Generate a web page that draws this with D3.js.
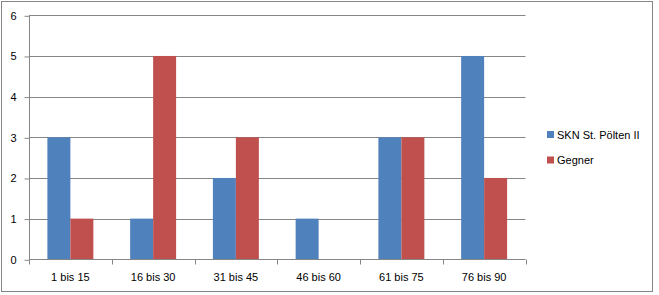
<!DOCTYPE html>
<html>
<head>
<meta charset="utf-8">
<script src="https://cdn.jsdelivr.net/npm/d3@7"></script>
<style>
  body { margin: 0; background: #fff; }
  text { font-family: "Liberation Sans", Arial, sans-serif; font-size: 11px; fill: #000; }
</style>
</head>
<body>
<div id="chart"></div>
<script>
var categories = ['1 bis 15', '16 bis 30', '31 bis 45', '46 bis 60', '61 bis 75', '76 bis 90'];
var seriesNames = ['SKN St. Pölten II', 'Gegner'];
var sknValues = [3, 1, 2, 1, 3, 5];
var gegnerValues = [1, 5, 3, 0, 3, 2];
var yTicks = [0, 1, 2, 3, 4, 5, 6];
var colors = ['#4F81BD', '#C0504D'];

var width = 659, height = 295;
var plotLeft = 29, plotRight = 525.5, plotTop = 15.3, plotBottom = 259.3;

var svg = d3.select('#chart').append('svg')
  .attr('width', width)
  .attr('height', height);

// outer frame
svg.append('rect')
  .attr('x', 1.5).attr('y', 1.5)
  .attr('width', 651).attr('height', 290)
  .attr('fill', 'none')
  .attr('stroke', '#868686');

var x = d3.scaleBand().domain(categories).range([plotLeft, plotRight]);
var x1 = d3.scaleBand().domain(seriesNames)
  .range([0, x.bandwidth()]).paddingOuter(0.8).paddingInner(0);
var y = d3.scaleLinear().domain([0, 6]).range([plotBottom, plotTop]);

// gridlines
svg.append('g').selectAll('line')
  .data(yTicks.filter(function(d) { return d > 0; })).enter()
  .append('line')
  .attr('x1', plotLeft).attr('x2', plotRight)
  .attr('y1', function(d) { return Math.round(y(d)) + 0.5; })
  .attr('y2', function(d) { return Math.round(y(d)) + 0.5; })
  .attr('stroke', '#868686');

var data = categories.map(function(c, i) {
  return { cat: c, vals: [sknValues[i], gegnerValues[i]] };
});

svg.append('g').selectAll('g')
  .data(data).enter()
  .append('g')
  .attr('transform', function(d) { return 'translate(' + x(d.cat) + ',0)'; })
  .selectAll('rect')
  .data(function(d) { return d.vals.map(function(v, j) { return { name: seriesNames[j], v: v, j: j }; }); })
  .enter().append('rect')
  .attr('x', function(d) { return x1(d.name); })
  .attr('width', x1.bandwidth())
  .attr('y', function(d) { return y(d.v); })
  .attr('height', function(d) { return y(0) - y(d.v); })
  .attr('fill', function(d) { return colors[d.j]; });

// y axis
var yAxis = d3.axisLeft(y).tickValues(yTicks).tickFormat(d3.format('d')).tickSize(5).tickPadding(8);
var gy = svg.append('g').attr('transform', 'translate(' + (plotLeft + 0.5) + ',0.5)').call(yAxis);
gy.selectAll('.domain, line').attr('stroke', '#868686');
gy.select('.domain').attr('d', 'M0,' + Math.round(plotTop) + 'V' + Math.round(plotBottom));
gy.selectAll('text').attr('fill', '#000').style('font-size', '11px')
  .style('font-family', '"Liberation Sans", Arial, sans-serif');

// x axis
var gx = svg.append('g').attr('transform', 'translate(0,' + (Math.round(plotBottom) + 0.5) + ')');
gx.append('line').attr('x1', plotLeft).attr('x2', plotRight).attr('stroke', '#868686');
gx.selectAll('line.tk')
  .data(categories.concat(['end'])).enter()
  .append('line')
  .attr('class', 'tk')
  .attr('x1', function(d, i) { return Math.round(plotLeft + i * x.step()) + 0.5; })
  .attr('x2', function(d, i) { return Math.round(plotLeft + i * x.step()) + 0.5; })
  .attr('y1', 0).attr('y2', 5)
  .attr('stroke', '#868686');
gx.selectAll('text')
  .data(categories).enter()
  .append('text')
  .attr('x', function(d) { return x(d) + x.bandwidth() / 2; })
  .attr('y', 21)
  .attr('text-anchor', 'middle')
  .text(function(d) { return d; });

// legend
var legend = svg.append('g').attr('transform', 'translate(547,0)');
seriesNames.forEach(function(name, i) {
  var cy = 134.5 + i * 25.5;
  legend.append('rect')
    .attr('x', 0).attr('y', cy - 3.5)
    .attr('width', 7).attr('height', 7)
    .attr('fill', colors[i]);
  legend.append('text')
    .attr('x', 10).attr('y', cy + 4)
    .text(name);
});
</script>
</body>
</html>
